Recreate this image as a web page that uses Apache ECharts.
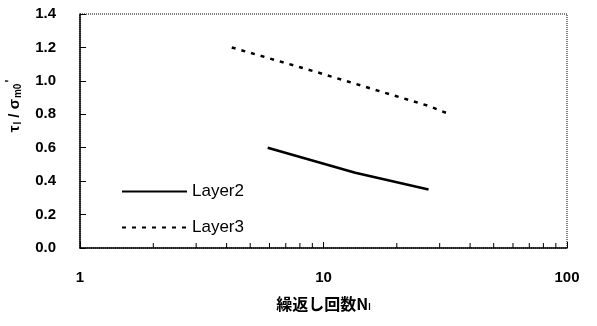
<!DOCTYPE html>
<html>
<head>
<meta charset="utf-8">
<script src="https://cdn.jsdelivr.net/npm/echarts@6/dist/echarts.min.js"></script>
<style>
html,body{margin:0;padding:0;background:#fff;}
#chart{width:597px;height:326px;}
</style>
</head>
<body>
<div id="chart"></div>
<script>
// Cyclic strength ratio against number of cycles (log scale)
const layer2 = [[5.9, 0.60], [13.5, 0.45], [27, 0.35]];
const layer3 = [[4.2, 1.20], [9.5, 1.05], [16, 0.95], [27, 0.85], [33, 0.80]];
const minorTickValues = [2, 3, 4, 5, 6, 7, 8, 9, 20, 30, 40, 50, 60, 70, 80, 90];

const FONT = '"Liberation Sans Narrow", "Liberation Sans", Arial, sans-serif';
const chart = echarts.init(document.getElementById('chart'), null, {renderer: 'canvas'});

chart.setOption({
  animation: false,
  backgroundColor: '#fff',
  grid: {
    left: 80, top: 14, width: 487, height: 234,
    outerBoundsMode: 'none', containLabel: false,
    show: true, borderColor: '#000', borderWidth: 1, borderType: 'dotted',
    backgroundColor: 'transparent'
  },
  legend: {
    orient: 'vertical',
    left: 116, top: 178,
    itemWidth: 65, itemHeight: 10, itemGap: 19,
    itemStyle: {opacity: 0},
    textStyle: {fontFamily: FONT, fontSize: 17, color: '#000'},
    data: ['Layer2', 'Layer3']
  },
  graphic: [{
    type: 'text',
    x: 15, y: 106,
    rotation: Math.PI / 2,
    style: {
      text: 'τ{s|l} / σ{s|m0}{p|\'}',
      fill: '#000',
      font: 'bold 15px ' + FONT,
      align: 'center', verticalAlign: 'middle',
      rich: {
        s: {fontSize: 10, fontWeight: 'bold', fontFamily: FONT, padding: [7, 0, 0, 1]},
        p: {fontSize: 12, fontWeight: 'bold', fontFamily: FONT, padding: [0, 0, 8, 1]}
      }
    }
  }],
  xAxis: {
    type: 'log', logBase: 10, min: 1, max: 100,
    axisLine: {show: true, lineStyle: {color: '#000', width: 1.5}},
    axisTick: {show: true, inside: true, length: 6, lineStyle: {color: '#000'}},
    splitLine: {show: false},
    axisLabel: {fontFamily: FONT, fontSize: 15, fontWeight: 'bold', color: '#000', margin: 22,
      formatter: v => String(Math.round(v))},
    name: '繰返し回数N{s|l}',
    nameLocation: 'middle', nameGap: 47,
    nameTextStyle: {fontFamily: '"Noto Sans CJK JP", sans-serif', fontSize: 16, fontWeight: 'bold', color: '#000',
      rich: {s: {fontSize: 9, fontWeight: 'bold', padding: [8, 0, 0, 0], fontFamily: FONT}}}
  },
  yAxis: {
    type: 'value', min: 0, max: 1.4, interval: 0.2,
    axisLine: {show: true, lineStyle: {color: '#000', width: 1.5}},
    axisTick: {show: true, inside: true, length: 6, lineStyle: {color: '#000'}},
    splitLine: {show: false},
    axisLabel: {fontFamily: FONT, fontSize: 15, fontWeight: 'bold', color: '#000', margin: 24,
      formatter: v => v.toFixed(1)}
  },
  series: [
    {
      // minor tick marks on the log axis
      type: 'custom',
      silent: true,
      data: minorTickValues.map(v => [v, 0]),
      renderItem: (params, api) => {
        const p = api.coord([api.value(0), 0]);
        return {type: 'line', shape: {x1: p[0], y1: p[1], x2: p[0], y2: p[1] - 5},
          style: {stroke: '#000', lineWidth: 1}};
      },
      z: 1
    },
    {
      name: 'Layer2', type: 'line', data: layer2, symbol: 'none',
      lineStyle: {color: '#000', width: 2.5, type: 'solid'},
      itemStyle: {color: '#000'}
    },
    {
      name: 'Layer3', type: 'line', data: layer3, symbol: 'none',
      lineStyle: {color: '#000', width: 2.5, type: [4, 6]},
      itemStyle: {color: '#000'}
    }
  ]
});
</script>
</body>
</html>
